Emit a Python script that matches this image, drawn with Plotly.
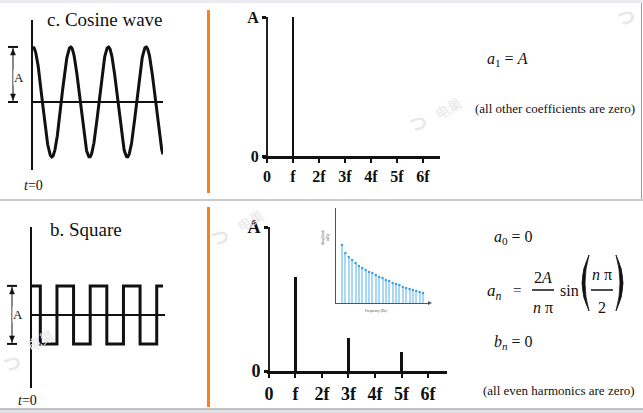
import numpy as np
import plotly.graph_objects as go

W, H = 643, 413


def px(x):
    return x / W


def py(y):
    return 1 - y / H


def dx(a, b):
    return [a / W, b / W]


def dy(top, bottom):
    return [1 - bottom / H, 1 - top / H]


# ---------------- data ----------------
cos_cycles = 3.45          # cycles of the cosine drawn
square_cycles = 3.94       # cycles of the square wave drawn
harm_positions = [0, 1, 2, 3, 4, 5, 6]
harm_labels = ["0", "f", "2f", "3f", "4f", "5f", "6f"]
cos_spec_n = [1]
cos_spec_amp = [1.0]
sq_spec_n = [1, 3, 5]
sq_spec_amp = [0.65, 0.23, 0.13]
inset_index = list(range(1, 26))
inset_amp = [58, 50, 46, 43, 40, 37, 35, 33, 31, 30, 28, 26, 25, 23, 22,
             20, 19, 18, 16, 15, 14, 13, 12, 11, 10]

SERIF = "Liberation Serif"
BLACK = "#111111"
ORANGE = "#F5821F"

t_cos = np.linspace(0, cos_cycles, 800)
y_cos = np.cos(2 * np.pi * t_cos)
t_sq = np.linspace(0, square_cycles, 4000)
y_sq = np.where(np.cos(2 * np.pi * t_sq) >= 0, 1.0, -1.0)

fig = go.Figure()
fig.add_trace(go.Scatter(x=t_cos, y=y_cos, mode="lines",
                         line=dict(color=BLACK, width=3), xaxis="x", yaxis="y"))
fig.add_trace(go.Bar(x=cos_spec_n, y=cos_spec_amp, width=0.08,
                     marker=dict(color=BLACK, line=dict(width=0)),
                     xaxis="x2", yaxis="y2"))
fig.add_trace(go.Scatter(x=t_sq, y=y_sq, mode="lines", line_shape="hv",
                         line=dict(color=BLACK, width=3), xaxis="x3", yaxis="y3"))
fig.add_trace(go.Bar(x=sq_spec_n, y=sq_spec_amp, width=0.1,
                     marker=dict(color=BLACK, line=dict(width=0)),
                     xaxis="x4", yaxis="y4"))
fig.add_trace(go.Bar(x=inset_index, y=inset_amp, width=0.3,
                     marker=dict(color="#a9d8f7", line=dict(width=0)),
                     xaxis="x5", yaxis="y5"))
fig.add_trace(go.Scatter(x=inset_index, y=inset_amp, mode="markers",
                         marker=dict(color="#3d9fe6", size=2.5),
                         xaxis="x5", yaxis="y5"))

hidden = dict(visible=False, fixedrange=True, automargin=False)
wave_y = dict(showline=True, linecolor=BLACK, linewidth=1.5, showticklabels=False,
              ticks="", showgrid=False, zeroline=True, zerolinecolor=BLACK,
              zerolinewidth=1.5, fixedrange=True, automargin=False)


def spec_x(dom, rng, anchor, size):
    return dict(domain=dom, range=rng, anchor=anchor, showline=True, linecolor=BLACK,
                linewidth=3, ticks="outside", ticklen=4, tickwidth=1.5, tickcolor=BLACK,
                tickvals=harm_positions, ticktext=harm_labels, showgrid=False,
                zeroline=False, fixedrange=True, automargin=False,
                tickfont=dict(family=SERIF, size=size, color=BLACK, weight="bold"))


def spec_y(dom, pos, size):
    return dict(domain=dom, range=[0, 1], anchor="free", position=pos, showline=True,
                linecolor="#222222", linewidth=2, ticks="outside", ticklen=4, tickwidth=3,
                tickcolor=BLACK, tickvals=[0, 1], ticktext=["0", "A"], showgrid=False,
                zeroline=False, fixedrange=True, automargin=False,
                tickfont=dict(family=SERIF, size=size, color=BLACK, weight="bold"))


inset_ax = dict(showline=True, linecolor="#555555", linewidth=1, showticklabels=False,
                ticks="", showgrid=False, zeroline=False, fixedrange=True, automargin=False)

fig.update_layout(
    width=W, height=H, margin=dict(l=0, r=0, t=0, b=0, pad=0, autoexpand=False),
    paper_bgcolor="white", plot_bgcolor="rgba(0,0,0,0)", showlegend=False,
    bargap=0,
    xaxis=dict(domain=dx(33, 163), range=[0, 3.45], anchor="y", **hidden),
    yaxis=dict(domain=dy(20, 170), range=[-1.236, 1.49], anchor="x", **wave_y),
    xaxis2=spec_x(dx(263, 440), [-0.154, 6.654], "y2", 16),
    yaxis2=spec_y(dy(17, 156), px(267), 16),
    xaxis3=dict(domain=dx(32, 165), range=[0, 4.0], anchor="y3", **hidden),
    yaxis3=dict(domain=dy(227, 388), range=[-2.52, 3.03], anchor="x3", **wave_y),
    xaxis4=spec_x(dx(267, 447), [-0.075, 6.717], "y4", 18),
    yaxis4=spec_y(dy(227, 371), px(269), 18),
    xaxis5=dict(domain=dx(336, 430), range=[-0.78, 27.07], anchor="y5", **inset_ax),
    yaxis5=dict(domain=dy(208, 303), range=[0, 95], anchor="x5", **inset_ax),
)

shapes = []
# frame / separators
shapes.append(dict(type="rect", xref="paper", yref="paper", x0=0, x1=1, y0=py(3), y1=1,
                   fillcolor="#ececf0", line=dict(width=0), layer="below"))
shapes.append(dict(type="line", xref="paper", yref="paper", x0=0, x1=1, y0=py(200), y1=py(200),
                   line=dict(color="#b8b8b8", width=1.5)))
shapes.append(dict(type="rect", xref="paper", yref="paper", x0=0, x1=1, y0=0, y1=py(409),
                   fillcolor="#e2e2e4", line=dict(width=0)))
shapes.append(dict(type="line", xref="paper", yref="paper", x0=0, x1=1, y0=py(409), y1=py(409),
                   line=dict(color="#b0b0b0", width=1.5)))
shapes.append(dict(type="line", xref="paper", yref="paper", x0=px(641.5), x1=px(641.5),
                   y0=py(3), y1=py(199), line=dict(color="#999999", width=1)))
# orange dividers
for y0, y1 in [(10, 193), (207, 407)]:
    shapes.append(dict(type="line", xref="paper", yref="paper", x0=px(208.5), x1=px(208.5),
                       y0=py(y0), y1=py(y1), line=dict(color=ORANGE, width=3)))


def tri(xc, yref, tip, base, half):
    # small filled arrowhead; x in paper, y in data units of yref
    p = (f"M {px(xc)},{tip} L {px(xc - half)},{base} L {px(xc + half)},{base} Z")
    return dict(type="path", xref="paper", yref=yref, path=p, fillcolor=BLACK,
                line=dict(color=BLACK, width=0.5))


# amplitude brackets (cosine: 0..A, square: -A..A)
for xp, yref, lo, hi, unit in [(13, "y", 0, 1, 1 / 55), (12, "y3", -1, 1, 1 / 29)]:
    shapes.append(dict(type="line", xref="paper", yref=yref, x0=px(xp), x1=px(xp), y0=lo, y1=hi,
                       line=dict(color=BLACK, width=1)))
    for v in (lo, hi):
        shapes.append(dict(type="line", xref="paper", yref=yref, x0=px(xp - 5), x1=px(xp + 5),
                           y0=v, y1=v, line=dict(color=BLACK, width=2)))
    shapes.append(tri(xp, yref, hi - 2 * unit, hi - 8 * unit, 2.5))
    shapes.append(tri(xp, yref, lo + 2 * unit, lo + 8 * unit, 2.5))

# fraction bars
for a, b in [(532, 554), (591, 613)]:
    shapes.append(dict(type="line", xref="paper", yref="paper", x0=px(a), x1=px(b),
                       y0=py(290), y1=py(290), line=dict(color=BLACK, width=1.5)))


# big parentheses drawn as filled crescents
def paren(xe, outer, inner, top, bot):
    mid = (top + bot) / 2
    p = (f"M {px(xe)},{py(top)} Q {px(outer)},{py(mid)} {px(xe)},{py(bot)} "
         f"Q {px(inner)},{py(mid)} {px(xe)},{py(top)} Z")
    return dict(type="path", xref="paper", yref="paper", path=p, fillcolor=BLACK,
                line=dict(color=BLACK, width=0.8))


shapes.append(paren(589, 575, 581, 255, 311))
shapes.append(paren(616, 630, 624, 255, 311))

# inset x-axis arrowhead
shapes.append(dict(type="path", xref="paper", yref="paper",
                   path=f"M {px(432)},{py(303)} L {px(428)},{py(301)} L {px(428)},{py(305)} Z",
                   fillcolor="#555555", line=dict(width=0)))
fig.update_layout(shapes=shapes)

ann = []


def text(x, y, s, size, family=SERIF, color=BLACK, **kw):
    d = dict(x=px(x), y=py(y), xref="paper", yref="paper", text=s, showarrow=False,
             xanchor="center", yanchor="middle", font=dict(family=family, size=size, color=color))
    d.update(kw)
    ann.append(d)


# "A" labels of the brackets
for xp, yref, mid in [(13, "y", 0.45), (12, "y3", 0.0)]:
    ann.append(dict(x=px(xp), y=mid, xref="paper", yref=yref, text="A", showarrow=False,
                    bgcolor="white", borderpad=0,
                    font=dict(family=SERIF, size=13, color=BLACK)))

# titles
text(105, 20, "c. Cosine wave", 19)
text(86, 229, "b. Square", 19)
text(33, 185, "<i>t</i>=0", 14)
text(27, 400, "<i>t</i>=0", 14)

# equations, top
text(507, 60, "<i>a</i><sub>1</sub> = <i>A</i>", 16)
text(555, 108, "(all other coefficients are zero)", 13)

# equations, bottom
text(513, 237, "<i>a</i><sub>0</sub> = 0", 16)
text(494, 292, "<i>a</i><sub><i>n</i></sub>", 17)
text(517, 290, "=", 15)
text(543, 277, "2<i>A</i>", 16)
text(543, 307, "<i>n</i> π", 16)
text(569, 290, "sin", 16)
text(602, 274, "<i>n</i> π", 16)
text(602, 307, "2", 16)
text(513, 342, "<i>b</i><sub><i>n</i></sub> = 0", 16)
text(559, 390, "(all even harmonics are zero)", 13)

# inset labels
text(325, 238, "Amplitude<br>(dB)", 3.5, color="#444444", textangle=-90)
text(376, 311, "Frequency (Hz)", 3.5, color="#444444")

# watermarks
WM = "#e8e8e8"
CJK = "Noto Sans CJK SC"
for lx, ly, tx, ty in [(418, 122, 448, 108), (220, 236, 250, 220), (12, 362, 40, 340)]:
    text(lx, ly, "<b>つ</b>", 18, family=CJK, color=WM)
    text(tx, ty, "电巢", 14, family=CJK, color=WM, textangle=-30)
text(626, 16, "<b>つ</b>", 18, family=CJK, color=WM)

fig.update_layout(annotations=ann)

fig.write_html("out.html", include_plotlyjs=True, config={"displayModeBar": False},
               post_script="document.body.style.margin='0px';")
